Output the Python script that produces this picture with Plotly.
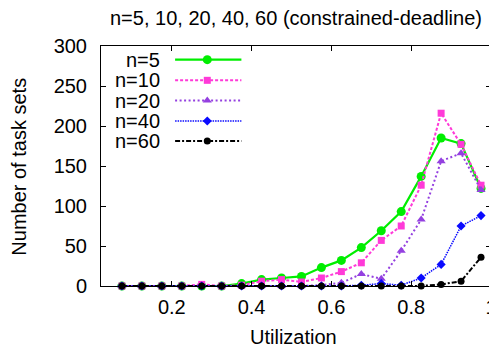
import plotly.graph_objects as go

utilization = [0.075, 0.125, 0.175, 0.225, 0.275, 0.325, 0.375, 0.425, 0.475, 0.525,
               0.575, 0.625, 0.675, 0.725, 0.775, 0.825, 0.875, 0.925, 0.975]
n5 = [0, 0, 0, 0, 0, 0, 3, 8, 10, 12, 23, 32, 48, 69, 93, 137, 185, 178, 122]
n10 = [0, 0, 0, 0, 2, 0, 1, 6, 8, 5, 10, 18, 29, 57, 75, 126, 216, 177, 126]
n20 = [0, 0, 0, 0, 0, 0, 0, 0, 0, 0, 1, 4, 15, 9, 44, 83, 156, 166, 120]
n40 = [0, 0, 0, 0, 0, 0, 0, 0, 0, 0, 0, 0, 1, 3, 1, 10, 27, 75, 88]
n60 = [0, 0, 0, 0, 0, 0, 0, 0, 0, 0, 0, 0, 0, 0, 0, 0, 2, 6, 36]

series_names = ["n=5", "n=10", "n=20", "n=40", "n=60"]
x_tickvals = [0.2, 0.4, 0.6, 0.8, 1.0]
x_ticktext = ["0.2", "0.4", "0.6", "0.8", "1"]
y_tickvals = [0, 50, 100, 150, 200, 250, 300]

styles = [
    dict(color="#00ee00", width=2.2, dash="solid", symbol="circle", size=9),
    dict(color="#ff3ad8", width=2, dash="3px,2px", symbol="square", size=7),
    dict(color="#9440e0", width=2, dash="2px,2.5px", symbol="triangle-up", size=8),
    dict(color="#0a0aff", width=1.5, dash="1.5px,1px", symbol="diamond", size=7),
    dict(color="#000000", width=2, dash="5px,2px,2px,2px", symbol="circle", size=7),
]
data = [n5, n10, n20, n40, n60]

FONT = "Liberation Sans, Arial, Helvetica, sans-serif"
FS = 20
fig = go.Figure()

for name, ys, st in zip(series_names, data, styles):
    fig.add_trace(go.Scatter(
        x=utilization, y=ys, mode="lines+markers", name=name,
        line=dict(color=st["color"], width=st["width"], dash=st["dash"]),
        marker=dict(symbol=st["symbol"], size=st["size"], color=st["color"], line=dict(width=0)),
        showlegend=False, cliponaxis=False,
    ))

# gnuplot-style key (text left, sample right) drawn in an overlay axis
key_rows = [0.943, 0.857, 0.7725, 0.6875, 0.604]
for name, st, ky in zip(series_names, styles, key_rows):
    fig.add_trace(go.Scatter(
        x=[0.190, 0.360], y=[ky, ky], xaxis="x2", yaxis="y2", mode="lines",
        line=dict(color=st["color"], width=st["width"], dash=st["dash"]),
        showlegend=False, hoverinfo="skip",
    ))
    fig.add_trace(go.Scatter(
        x=[0.2725], y=[ky], xaxis="x2", yaxis="y2", mode="markers",
        marker=dict(symbol=st["symbol"], size=st["size"], color=st["color"], line=dict(width=0)),
        showlegend=False, hoverinfo="skip",
    ))
    fig.add_annotation(x=0.156, y=ky, xref="paper", yref="paper", text=name,
                       showarrow=False, xanchor="right", yanchor="middle",
                       font=dict(family=FONT, size=FS, color="black"))

# title and axis titles
fig.add_annotation(x=0.5, y=1.117, xref="paper", yref="paper",
                   text="n=5, 10, 20, 40, 60 (constrained-deadline)", showarrow=False,
                   xanchor="center", yanchor="middle", font=dict(family=FONT, size=FS, color="black"))
fig.add_annotation(x=0.494, y=-0.214, xref="paper", yref="paper", text="Utilization",
                   showarrow=False, xanchor="center", yanchor="middle",
                   font=dict(family=FONT, size=FS, color="black"))
fig.add_annotation(x=-0.2091, y=0.499, xref="paper", yref="paper", text="Number of task sets",
                   showarrow=False, xanchor="center", yanchor="middle", textangle=-90,
                   font=dict(family=FONT, size=FS, color="black"))

# the page body has an 8px margin; the figure is sized so that it fills the 497x351 window
fig.update_layout(
    width=489, height=343,
    margin=dict(l=93, r=6, t=38, b=65, autoexpand=False),
    paper_bgcolor="white", plot_bgcolor="white",
    font=dict(family=FONT, size=FS, color="black"),
    xaxis=dict(range=[0.0226, 1.0], tickvals=x_tickvals, ticktext=x_ticktext,
               ticks="inside", ticklen=5, tickwidth=1, tickcolor="black",
               showline=True, linecolor="black", linewidth=1, mirror="ticks",
               showgrid=False, zeroline=False, automargin=False, ticklabelstandoff=3),
    yaxis=dict(range=[0, 300], tickvals=y_tickvals,
               ticks="inside", ticklen=5, tickwidth=1, tickcolor="black",
               showline=True, linecolor="black", linewidth=1, mirror="ticks",
               showgrid=False, zeroline=False, automargin=False, ticklabelstandoff=9),
    xaxis2=dict(overlaying="x", range=[0, 1], visible=False, fixedrange=True),
    yaxis2=dict(overlaying="y", range=[0, 1], visible=False, fixedrange=True),
)

fig.write_html("out.html")
